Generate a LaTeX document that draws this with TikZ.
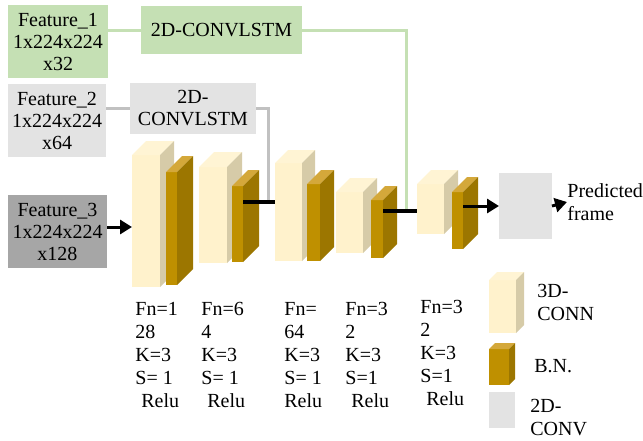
\documentclass[tikz,border=0pt]{standalone}
\usepackage{fontspec}
\setmainfont{Liberation Serif}
\usetikzlibrary{arrows.meta, positioning}

\definecolor{featgreen}{HTML}{C5E0B4}
\definecolor{featgray}{HTML}{E3E3E3}
\definecolor{featdark}{HTML}{A6A6A6}
\definecolor{creamfront}{HTML}{FFF2CC}
\definecolor{creamtop}{HTML}{FFF4D4}
\definecolor{creamside}{HTML}{D6CBA8}
\definecolor{goldfront}{HTML}{BF9000}
\definecolor{goldtop}{HTML}{D4A83A}
\definecolor{goldside}{HTML}{9C7600}

\begin{document}
\begin{tikzpicture}[x=0.5pt, y=-0.5pt, >={Triangle[length=6pt, width=7pt]},
      sz/.style 2 args={minimum width=#1*0.5pt, minimum height=#2*0.5pt},
      box/.style={fill=#1, inner sep=0pt, outer sep=0pt, align=center,
                  font=\fontsize{10}{11}\selectfont},
      lbl/.style={inner sep=0pt, align=left, font=\fontsize{10}{11.5}\selectfont},
      cnfront/.style={fill=creamfront, inner sep=0pt, outer sep=0pt},
      cntop/.style={fill=creamtop},
      cnside/.style={fill=creamside},
      bnfront/.style={fill=goldfront, inner sep=0pt, outer sep=0pt},
      bntop/.style={fill=goldtop},
      bnside/.style={fill=goldside},
      link/.style={line width=2pt},
      arr/.style={line width=1.5pt, ->},
      glink/.style={line width=1.5pt, draw=#1}]

    \useasboundingbox (0,0) rectangle (643,440);

    % Block macro: #1=name, #2=kind (cn/bn), #3=x, #4=y of front top, #5=w, #6=h, #7=depth
    \newcommand{\slab}[7]{%
        \node[#2front, sz={#5}{#6}, anchor=north west] (#1) at (#3,#4) {};
        \fill[#2top] (#1.north west) -- ++(#7,-#7) -- ++(#5,0) -- (#1.north east) -- cycle;
        \fill[#2side] (#1.north east) -- ++(#7,-#7) -- ++(0,#6) -- (#1.south east) -- cycle;
    }

    % Inputs and recurrent branches
    \node[box=featgreen, sz={100}{73}] (f1) at (58,41.5) {Feature\_1\\1x224x224\\x32};
    \node[box=featgreen, sz={161}{48}] (lstm1) at (221.5,30) {2D-CONVLSTM};
    \node[box=featgray, sz={98}{73}] (f2) at (57,120.5) {Feature\_2\\1x224x224\\x64};
    \node[box=featgray, sz={126}{51}] (lstm2) at (193,108.5) {2D-\\CONVLSTM};
    \node[box=featdark, sz={99}{73}] (f3) at (57.5,231.5) {Feature\_3\\1x224x224\\x128};

    % Encoder-decoder blocks
    %      name kind  x    y    w   h   d
    \slab {c1} {cn} {132}{155}{28}{132}{14}
    \slab {b1} {bn} {166}{172}{11}{113}{16}
    \slab {c2} {cn} {199}{167}{28}{96} {15}
    \slab {b2} {bn} {232}{186}{11}{76} {16}
    \slab {c3} {cn} {275}{163}{27}{98} {13}
    \slab {b3} {bn} {307}{184}{13}{77} {14}
    \slab {c4} {cn} {336}{192}{27}{61} {14}
    \slab {b4} {bn} {371}{200}{12}{58} {14}
    \slab {c5} {cn} {417}{184}{27}{50} {14}
    \slab {b5} {bn} {452}{192}{11}{57} {15}

    \node[box=featgray, sz={53}{66}] (conv) at (525.5,206) {};
    \node[lbl, anchor=west] (pred) at (567,202) {Predicted\\frame};

    % Joins of the branches
    \coordinate (j2) at (268,202);
    \coordinate (j4) at (406,211);

    \draw[glink=featgreen] (f1.east |- lstm1.west) -- (lstm1.west);
    \draw[glink=featgreen] (lstm1.east) -| (j4);
    \draw[glink=featgray!85!black] (f2.east |- lstm2.west) -- (lstm2.west);
    \draw[glink=featgray!85!black] (lstm2.east) -| (j2);

    \draw[arr] (f3.east |- 0,227) -- (c1.west |- 0,227);
    \draw[link] (b2.east |- j2) -- (j2 -| c3.west);
    \draw[link] (b4.east |- j4) -- (j4 -| c5.west);
    \draw[arr] (b5.east |- conv.west) -- (conv.west);
    \draw[arr] (conv.east) -- (pred.west);

    % Layer settings
    \node[lbl, anchor=north west] (l1) at (135,302) {Fn=1\\28\\K=3\\S= 1\\\hspace{3pt}Relu};
    \node[lbl, anchor=north west] (l2) at (201,302) {Fn=6\\4\\K=3\\S= 1\\\hspace{3pt}Relu};
    \node[lbl, anchor=north west] (l3) at (284,302) {Fn=\\64\\K=3\\S= 1\\Relu};
    \node[lbl, anchor=north west] (l4) at (345,302) {Fn=3\\2\\K=3\\S=1\\\hspace{3pt}Relu};
    \node[lbl, anchor=north west] (l5) at (420,300) {Fn=3\\2\\K=3\\S=1\\\hspace{3pt}Relu};

    % Legend
    \slab {lc} {cn} {489}{280}{27}{53}{8}
    \slab {lb} {bn} {489}{349}{20}{36}{6}
    \node[box=featgray, sz={26}{36}] (lg) at (502,410) {};
    \node[lbl, anchor=west] (lct) at (537,302) {3D-\\CONN};
    \node[lbl, anchor=west] (lbt) at (534,366) {B.N.};
    \node[lbl, anchor=west] (lgt) at (530,418) {2D-\\CONV};

\end{tikzpicture}
\end{document}
